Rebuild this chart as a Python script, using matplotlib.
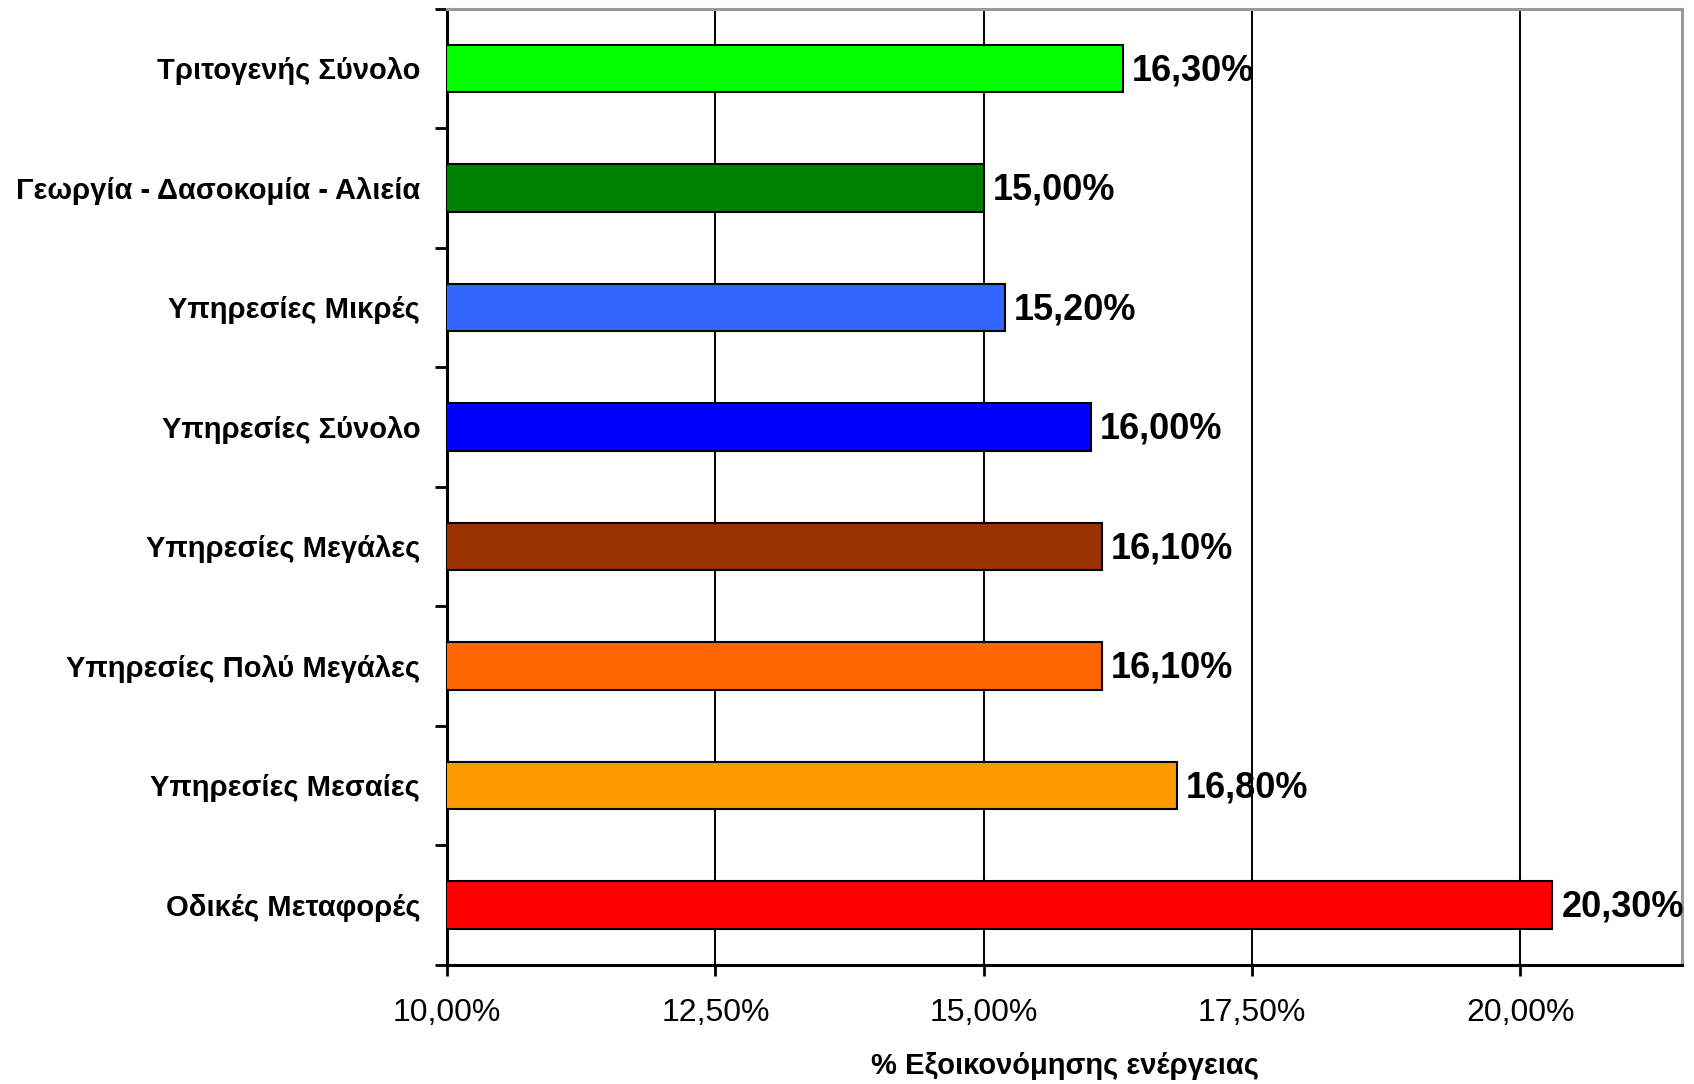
import numpy as np
import matplotlib.pyplot as plt

plt.rcParams['font.family'] = ['Liberation Sans', 'DejaVu Sans']

# top to bottom as in the picture
categories = ["Τριτογενής Σύνολο", "Γεωργία - Δασοκομία - Αλιεία", "Υπηρεσίες Μικρές",
              "Υπηρεσίες Σύνολο", "Υπηρεσίες Μεγάλες", "Υπηρεσίες Πολύ Μεγάλες",
              "Υπηρεσίες Μεσαίες", "Οδικές Μεταφορές"]
values = [16.3, 15.0, 15.2, 16.0, 16.1, 16.1, 16.8, 20.3]
colors = ["#00FF00", "#008000", "#3366FF", "#0000FF", "#993300", "#FF6600", "#FF9900", "#FF0000"]
xticks = [10.0, 12.5, 15.0, 17.5, 20.0]

fig = plt.figure(figsize=(16.94, 10.84), dpi=100)
ax = fig.add_axes([0.264, 0.110, 0.729, 0.882])

n = len(categories)
y = np.arange(n)[::-1]
ax.barh(y, values, height=0.4, color=colors, edgecolor="black", linewidth=1.5, zorder=3)

for yi, v in zip(y, values):
    ax.annotate(f"{v:.2f}%".replace(".", ","), (v, yi), xytext=(6.5, -1.5), textcoords="offset points",
                ha="left", va="center", fontsize=26, fontweight="bold", zorder=4)

ax.set_xlim(10, 21.51)
ax.set_ylim(-0.5, n - 0.5)
ax.set_xticks(xticks)
ax.set_xticklabels([f"{t:.2f}%".replace(".", ",") for t in xticks], fontsize=23)
ax.xaxis.grid(True, color="black", linewidth=1.4, zorder=0)

# ticks between categories, labels centred on bars
ax.set_yticks(np.arange(-0.5, n, 1.0))
ax.set_yticklabels([])
ax.set_yticks(y, categories, minor=True)
ax.tick_params(axis="y", which="minor", length=0, pad=19.5, labelsize=21)
for lab in ax.get_yticklabels(minor=True):
    lab.set_fontweight("bold")
ax.tick_params(axis="y", which="major", length=9, width=2)
ax.tick_params(axis="x", length=8, width=2, pad=16)

for s in ["left", "bottom"]:
    ax.spines[s].set_linewidth(2.2)
    ax.spines[s].set_color("black")
for s in ["top", "right"]:
    ax.spines[s].set_linewidth(2.2)
    ax.spines[s].set_color("#999999")

ax.set_xlabel("% Εξοικονόμησης ενέργειας", fontsize=21, fontweight="bold", labelpad=17)

fig.savefig("out.png")
